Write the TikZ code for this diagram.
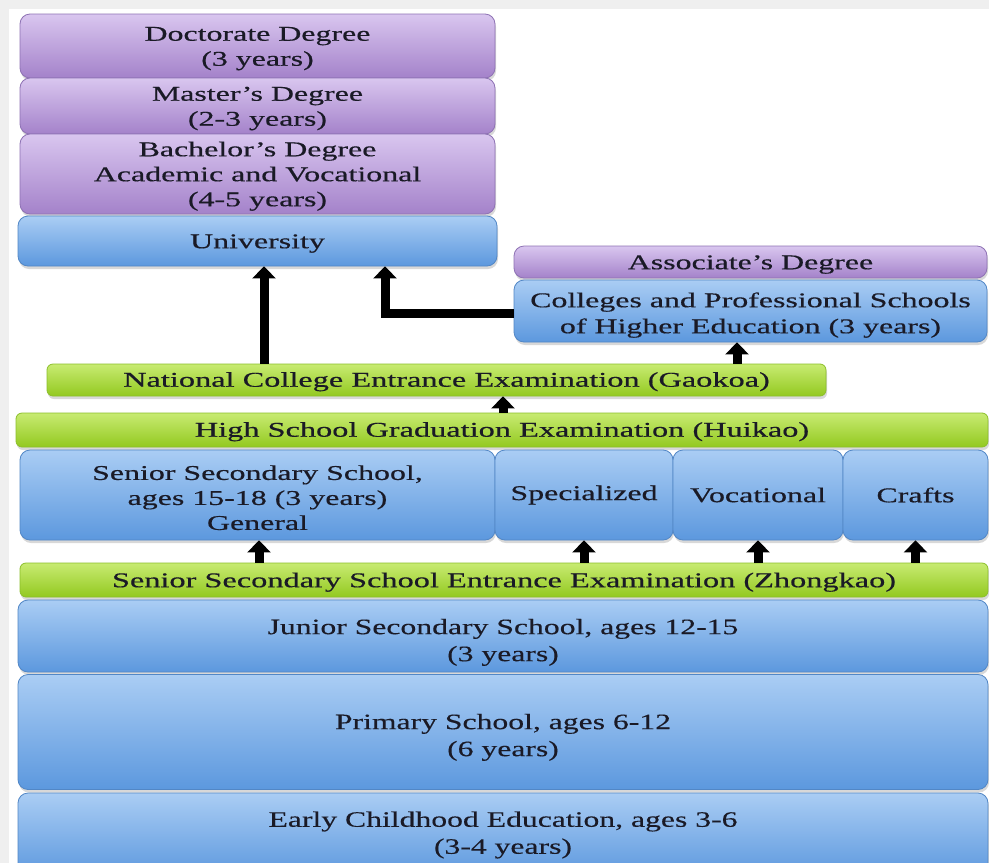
\documentclass[tikz,border=0pt]{standalone}
\usepackage{fontspec}
\setmainfont{Liberation Serif}[FakeStretch=1.52,FakeBold=0.5]
\newfontfamily\greenserif{Liberation Serif}[FakeStretch=1.54,FakeBold=0.5]
\newfontfamily\narrowserif{Liberation Serif}[FakeStretch=1.44,FakeBold=0.3]
\usetikzlibrary{arrows.meta,shadows}
\definecolor{purT}{HTML}{D9C6EF}
\definecolor{purB}{HTML}{A482CA}
\definecolor{purD}{HTML}{8E72B4}
\definecolor{bluT}{HTML}{AACDF4}
\definecolor{bluB}{HTML}{5C98DE}
\definecolor{bluD}{HTML}{5287C6}
\definecolor{grnT}{HTML}{C8EB72}
\definecolor{grnB}{HTML}{93C920}
\definecolor{grnD}{HTML}{8CBF2B}
\definecolor{txt}{HTML}{1A1A26}
\definecolor{bgframe}{HTML}{EFEFEF}
\newcommand{\lowerby}[1]{\rule{0pt}{#1}}
\tikzset{
  box/.style={rectangle, rounded corners=10pt, line width=0.8pt, inner sep=0pt,
    align=center, text=txt, font=\fontsize{21}{25}\selectfont,
    drop shadow={opacity=0.3, shadow xshift=1pt, shadow yshift=-3pt}},
  purplebox/.style={box, draw=purD, top color=purT, bottom color=purB},
  bluebox/.style={box, draw=bluD, top color=bluT, bottom color=bluB},
  lowbox/.style={bluebox, font=\narrowserif\fontsize{22}{27}\selectfont},
  greenbar/.style={box, rounded corners=6pt, draw=grnD, top color=grnT, bottom color=grnB,
    font=\greenserif\fontsize{21}{23}\selectfont},
  fat/.style={line width=9pt, black, -{Triangle[length=12pt,width=23pt]}},
}
\begin{document}
\begin{tikzpicture}[x=1pt,y=-1pt]
\clip (0,0) rectangle (989,863);
\fill[bgframe] (0,0) rectangle (989,863);
\fill[white] (9,9) rectangle (989,863);
% higher education
\node[purplebox, minimum width=475pt, minimum height=64pt] (doc) at (257.5,46) {\lowerby{19pt}Doctorate Degree\\(3 years)};
\node[purplebox, minimum width=475pt, minimum height=56pt] (mas) at (257.5,106) {\lowerby{19pt}Master's Degree\\(2-3 years)};
\node[purplebox, minimum width=475pt, minimum height=80pt] (bach) at (257.5,174) {\lowerby{19pt}Bachelor's Degree\\Academic and Vocational\\(4-5 years)};
\node[bluebox, minimum width=479pt, minimum height=50pt] (univ) at (257.5,241) {\lowerby{19pt}University};
\node[purplebox, minimum width=473pt, minimum height=32pt] (assoc) at (750.5,262) {\lowerby{19pt}Associate's Degree};
\node[bluebox, minimum width=473pt, minimum height=62pt, font=\fontsize{21}{26}\selectfont] (coll) at (750.5,311) {\lowerby{23pt}Colleges and Professional Schools\\of Higher Education (3 years)};
% exams and senior secondary
\node[greenbar, minimum width=779pt, minimum height=32pt] (gaokao) at (436.5,380) {\lowerby{18pt}\hspace*{20pt}National College Entrance Examination (Gaokoa)};
\node[greenbar, minimum width=972pt, minimum height=34pt] (huikao) at (502,430) {\lowerby{18pt}High School Graduation Examination (Huikao)};
\node[bluebox, minimum width=475pt, minimum height=90pt] (gen) at (257.5,495) {\lowerby{20pt}Senior Secondary School,\\ages 15-18 (3 years)\\General};
\node[bluebox, minimum width=178pt, minimum height=90pt] (spec) at (584,495) {Specialized};
\node[bluebox, minimum width=170pt, minimum height=90pt] (voc) at (758,495) {Vocational};
\node[bluebox, minimum width=145pt, minimum height=90pt] (craft) at (915.5,495) {Crafts};
\node[greenbar, minimum width=968pt, minimum height=34pt] (zhong) at (504,580) {\lowerby{19pt}Senior Secondary School Entrance Examination (Zhongkao)};
% compulsory and early education
\node[lowbox, minimum width=970pt, minimum height=72pt] (junior) at (503,636) {\lowerby{28pt}Junior Secondary School, ages 12-15\\(3 years)};
\node[lowbox, minimum width=970pt, minimum height=115pt] (prim) at (503,732) {\lowerby{26pt}Primary School, ages 6-12\\(6 years)};
\node[lowbox, minimum width=970pt, minimum height=84pt] (early) at (503,835) {Early Childhood Education, ages 3-6\\(3-4 years)};
% connectors
\coordinate (xa) at (264,0);
\coordinate (xb) at (385,0);
\coordinate (xc) at (737,0);
\coordinate (xd) at (503,0);
\coordinate (xe) at (259,0);
\coordinate (yb) at (0,313);
\draw[fat] (gaokao.north -| xa) -- (univ.south -| xa);
\draw[fat, line join=miter] (coll.west |- yb) -| (univ.south -| xb);
\draw[fat] (gaokao.north -| xc) -- (coll.south -| xc);
\draw[fat] (huikao.north -| xd) -- (gaokao.south -| xd);
\draw[fat] (zhong.north -| xe) -- (gen.south -| xe);
\draw[fat] (zhong.north -| spec.south) -- (spec.south);
\draw[fat] (zhong.north -| voc.south) -- (voc.south);
\draw[fat] (zhong.north -| craft.south) -- (craft.south);
\end{tikzpicture}
\end{document}
